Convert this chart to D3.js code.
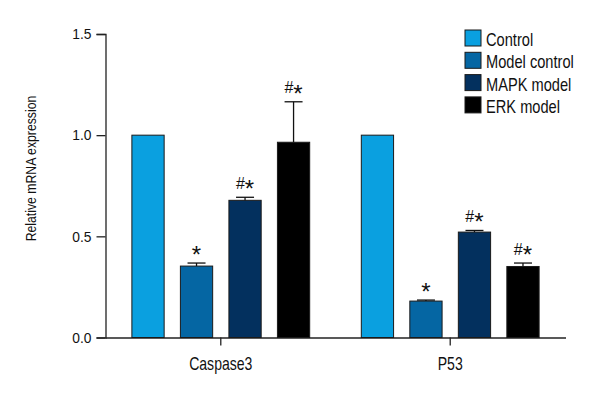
<!DOCTYPE html>
<html><head><meta charset="utf-8">
<script src="https://cdn.jsdelivr.net/npm/d3@7"></script>
<style>
body{margin:0;background:#fff;}
text{font-family:"Liberation Sans",Arial,sans-serif;fill:#111;}
</style></head>
<body><svg id="c" width="600" height="400"></svg>
<script>
const categories = ["Caspase3", "P53"];
const seriesNames = ["Control", "Model control", "MAPK model", "ERK model"];
const seriesColors = ["#0aa0e0", "#0566a3", "#03305e", "#000000"];
const caspase3Values = [1.0, 0.353, 0.678, 0.965];
const caspase3Errors = [0, 0.015, 0.015, 0.2];
const p53Values = [1.0, 0.18, 0.521, 0.351];
const p53Errors = [0, 0.005, 0.008, 0.017];
const caspase3Marks = ["", "*", "#*", "#*"];
const p53Marks = ["", "*", "#*", "#*"];
const yTicks = [0, 0.5, 1.0, 1.5];

const values = [caspase3Values, p53Values];
const errors = [caspase3Errors, p53Errors];
const marks = [caspase3Marks, p53Marks];

function condense(sel, f) {
  sel.each(function() {
    const w = this.getComputedTextLength();
    d3.select(this).attr("textLength", w * f).attr("lengthAdjust", "spacingAndGlyphs");
  });
}

const svg = d3.select("#c");
const mLeft = 105.5, mRight = 565.5, mTop = 34, mBottom = 337.5;

const y = d3.scaleLinear().domain([0, 1.5]).range([mBottom, mTop]);
const x0 = d3.scaleBand().domain(categories).range([mLeft, mRight]).paddingInner(0.225).paddingOuter(0.115);
const x1 = d3.scaleBand().domain(seriesNames).range([0, x0.bandwidth()]).paddingInner(0.335).paddingOuter(0);

// axes
const yAxis = svg.append("g").attr("transform", `translate(${mLeft},0)`)
  .call(d3.axisLeft(y).tickValues(yTicks).tickFormat(d3.format(".1f")).tickSize(9).tickPadding(5));
yAxis.selectAll("text").style("font-size", "15px").style("fill", "#111");
condense(yAxis.selectAll("text"), 0.92);
yAxis.selectAll("line,path").attr("stroke", "#222").attr("stroke-width", 1.3);

const xAxis = svg.append("g").attr("transform", `translate(0,${mBottom})`)
  .call(d3.axisBottom(x0).tickSize(8).tickSizeOuter(0));
xAxis.selectAll("text").attr("y", 32.5).attr("dy", 0).style("font-size", "18.5px").style("fill", "#111");
condense(xAxis.selectAll("text"), 0.76);
xAxis.selectAll("line,path").attr("stroke", "#222").attr("stroke-width", 1.3);

// bars
const groups = svg.append("g").selectAll("g").data(categories).join("g")
  .attr("transform", d => `translate(${x0(d)},0)`);

groups.each(function(cat, ci) {
  const g = d3.select(this);
  seriesNames.forEach((s, si) => {
    const v = values[ci][si], e = errors[ci][si];
    const bx = x1(s), bw = x1.bandwidth();
    g.append("rect").attr("x", bx).attr("y", y(v)).attr("width", bw).attr("height", y(0) - y(v))
      .attr("fill", seriesColors[si]).attr("stroke", "#1a1a1a").attr("stroke-width", 1);
    let topY = y(v);
    if (e > 0) {
      const cx = bx + bw / 2, capY = y(v + e);
      g.append("line").attr("x1", cx).attr("x2", cx).attr("y1", y(v)).attr("y2", capY)
        .attr("stroke", "#111").attr("stroke-width", 1.3);
      g.append("line").attr("x1", cx - 9).attr("x2", cx + 9).attr("y1", capY).attr("y2", capY)
        .attr("stroke", "#111").attr("stroke-width", 1.3);
      topY = capY;
    }
    const m = marks[ci][si];
    if (m) {
      const t = g.append("text").attr("x", bx + bw / 2).attr("y", topY - 8.5).attr("text-anchor", "middle")
        .style("font-size", "16px");
      for (const ch of m) {
        if (ch === "*") t.append("tspan").attr("dy", 8.5).style("font-size", "24px").text(ch);
        else t.append("tspan").text(ch);
      }
    }
  });
});

// y title
const yt = svg.append("text").attr("transform", "translate(36,168.5) rotate(-90)").attr("text-anchor", "middle")
  .style("font-size", "15.5px").text("Relative mRNA expression");
condense(yt, 0.79);

// legend
const leg = svg.append("g").attr("transform", "translate(465,30)");
seriesNames.forEach((s, i) => {
  leg.append("rect").attr("x", 0).attr("y", i * 22.3).attr("width", 16).attr("height", 16)
    .attr("fill", seriesColors[i]).attr("stroke", "#1a1a1a").attr("stroke-width", 1);
  const t = leg.append("text").attr("x", 21).attr("y", i * 22.3 + 16).style("font-size", "19px").text(s);
  condense(t, 0.77);
});
</script></body></html>
